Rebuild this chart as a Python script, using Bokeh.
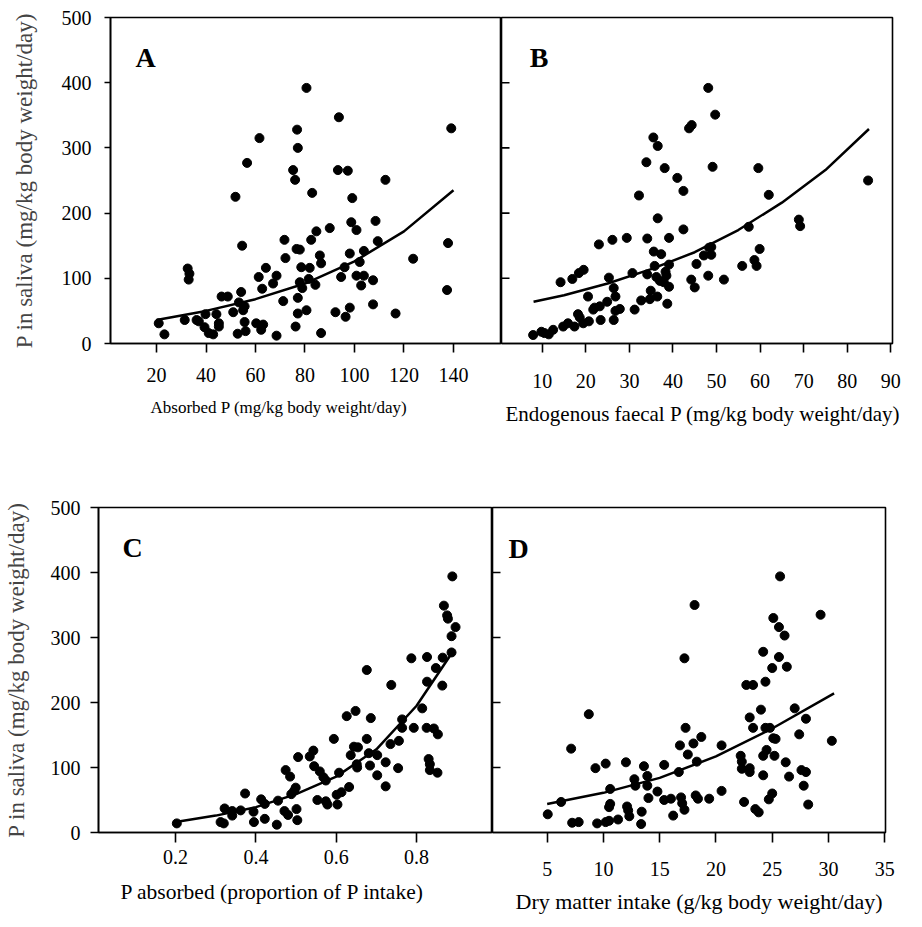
from bokeh.plotting import figure
from bokeh.layouts import row, column
from bokeh.models import FixedTicker, Range1d, Label, Title
from bokeh.embed import file_html
from bokeh.resources import INLINE

FONT = "Liberation Serif"
Y_LABEL = "P in saliva (mg/kg body weight/day)"

# ---------------- Panel A: absorbed P ----------------
a_x = [20.9, 23.2, 31.4, 32.6, 33.3, 33.0, 36.2, 37.1, 39.8, 39.4, 41.1, 42.9, 44.2, 45.2, 45.2,
       46.3, 48.8, 51.0, 51.9, 52.8, 53.3, 54.2, 54.6, 55.0, 55.6, 56.0, 55.6, 56.6, 60.3, 61.3,
       61.6, 62.3, 62.7, 63.1, 64.2, 67.1, 68.5, 68.5, 71.2, 71.7, 72.1, 75.2, 76.0, 76.2, 76.8,
       77.1, 76.6, 77.9, 77.1, 77.1, 77.9, 78.5, 78.9, 80.6, 80.6, 81.5, 81.9, 82.5, 82.9, 84.2,
       84.6, 86.0, 86.5, 86.5, 90.0, 92.3, 93.7, 93.3, 94.6, 96.0, 96.4, 97.3, 98.1, 98.1, 98.7,
       99.1, 100.8, 100.8, 102.1, 102.7, 103.8, 103.8, 107.5, 107.5, 108.5, 109.4, 139.1, 112.5,
       137.8, 123.7, 116.6, 137.4]
a_y = [31, 14, 36, 115, 107, 98, 36, 34, 45, 25, 16, 14, 45, 31, 26,
       72, 72, 48, 225, 15, 63, 79, 150, 51, 33, 19, 57, 277, 31, 102,
       315, 21, 84, 29, 116, 92, 104, 12, 65, 159, 131, 266, 251, 26, 328,
       300, 145, 144, 70, 46, 94, 117, 85, 392, 51, 99, 116, 159, 231, 90,
       172, 135, 123, 16, 177, 48, 347, 266, 102, 117, 41, 265, 55, 138, 186,
       223, 174, 104, 125, 89, 142, 104, 97, 60, 188, 157, 330, 251,
       154, 130, 46, 82]
a_curve_x = [20, 40, 60, 80, 100, 120, 140]
a_curve_y = [36, 50, 68, 92, 126, 172, 235]
a_ticks = [20, 40, 60, 80, 100, 120, 140]

# ---------------- Panel B: endogenous faecal P ----------------
b_x = [7.9, 9.8, 10.5, 11.5, 12.5, 14.2, 14.8, 15.9, 16.9, 17.4, 18.4, 19.5, 18.2, 18.6, 19.4,
       20.5, 20.7, 21.7, 22.0, 23.0, 23.2, 23.4, 24.9, 25.3, 26.1, 26.4, 26.8, 26.8, 26.4, 27.8,
       29.4, 30.7, 31.2, 32.2, 32.7, 33.9, 34.1, 34.1, 34.9, 35.5, 35.6, 35.8, 36.5, 36.5, 36.4,
       36.2, 38.1, 41.0, 42.4, 43.7, 44.3, 48.1, 49.7, 49.1, 39.1, 42.4, 37.3, 39.1, 37.0, 38.3,
       38.5, 37.9, 39.1, 34.7, 38.7, 44.2, 45.0, 45.4, 47.1, 48.3, 48.8, 48.8, 48.1, 51.7, 55.9,
       57.4, 58.7, 59.2, 59.9, 59.6, 62.0, 68.9, 69.2, 84.8]
b_y = [13, 18, 16, 14, 21, 94, 26, 31, 99, 26, 108, 113, 45, 40, 31,
       72, 34, 52, 55, 152, 57, 36, 64, 101, 159, 85, 72, 50, 36, 53,
       162, 108, 52, 227, 66, 278, 161, 106, 81, 316, 141, 119, 303, 192, 72,
       102, 269, 254, 234, 330, 335, 392, 351, 271, 162, 175, 137, 121, 96, 110,
       104, 94, 87, 68, 61, 98, 86, 122, 135, 147, 148, 136, 104, 98, 119,
       179, 128, 119, 145, 269, 228, 190, 180, 250]
b_curve_x = [8, 15, 25, 35, 45, 55, 65, 75, 85]
b_curve_y = [64, 74, 92, 114, 140, 174, 216, 266, 329]
b_ticks = [10, 20, 30, 40, 50, 60, 70, 80, 90]

# ---------------- Panel C: P absorbed (proportion) ----------------
c_x = [0.203, 0.312, 0.320, 0.322, 0.341, 0.341, 0.362, 0.373, 0.394, 0.395, 0.413, 0.422, 0.422,
       0.452, 0.455, 0.474, 0.471, 0.480, 0.485, 0.488, 0.501, 0.503, 0.505, 0.499, 0.495, 0.534,
       0.543, 0.545, 0.553, 0.559, 0.568, 0.574, 0.574, 0.578, 0.594, 0.601, 0.603, 0.607, 0.613,
       0.626, 0.632, 0.636, 0.644, 0.648, 0.654, 0.652, 0.651, 0.676, 0.676, 0.681, 0.684, 0.686,
       0.702, 0.702, 0.889, 0.868, 0.876, 0.878, 0.897, 0.887, 0.887, 0.787, 0.826, 0.865, 0.848,
       0.826, 0.864, 0.737, 0.814, 0.764, 0.764, 0.793, 0.825, 0.843, 0.853, 0.756, 0.735, 0.723,
       0.754, 0.723, 0.830, 0.833, 0.833, 0.852]
c_y = [14, 16, 14, 37, 33, 26, 34, 60, 32, 16, 51, 21, 44,
       12, 49, 96, 33, 27, 86, 59, 36, 19, 116, 69, 64, 117,
       126, 102, 50, 94, 85, 80, 48, 43, 144, 58, 43, 92, 62,
       179, 70, 119, 132, 187, 131, 100, 105, 250, 144, 122, 103, 176,
       88, 119, 394, 349, 334, 329, 316, 302, 277, 268, 270, 269, 253,
       232, 226, 227, 191, 174, 161, 161, 161, 160, 151, 141, 136, 108,
       99, 71, 113, 105, 96, 92]
c_curve_x = [0.2, 0.3, 0.4, 0.5, 0.6, 0.7, 0.8, 0.89]
c_curve_y = [16, 26, 39, 59, 86, 128, 195, 278]
c_ticks = [0.2, 0.4, 0.6, 0.8]

# ---------------- Panel D: dry matter intake ----------------
d_x = [5.05, 6.24, 7.13, 7.22, 7.8, 8.7, 9.29, 10.2, 9.44, 10.2, 10.5, 10.5, 10.6, 10.6, 11.3,
       12.0, 12.1, 12.2, 12.3, 12.75, 12.84, 13.35, 13.4, 13.6, 13.9, 13.9, 14.0, 14.8, 15.4, 15.4,
       16.0, 16.2, 16.7, 16.8, 16.9, 17.0, 17.2, 17.2, 17.3, 17.5, 18.0, 18.1, 18.2, 18.3, 18.4,
       18.7, 19.4, 20.5, 20.5, 22.2, 22.3, 22.3, 22.5, 22.7, 23.3, 23.0, 23.0, 23.0, 23.3, 23.5,
       23.8, 24.0, 24.2, 24.2, 24.2, 24.4, 24.4, 24.5, 24.7, 25.0, 24.8, 25.0, 25.1, 25.1, 25.2,
       25.3, 25.6, 25.6, 25.7, 26.1, 26.3, 26.2, 26.5, 27.0, 27.4, 27.6, 28.0, 28.0, 27.8, 28.2,
       29.3, 30.3]
d_y = [28, 47, 129, 15, 16, 182, 99, 106, 14, 16, 18, 39, 44, 67, 20,
       108, 40, 34, 25, 82, 72, 13, 32, 102, 87, 72, 53, 63, 104, 50,
       52, 26, 93, 134, 54, 45, 35, 268, 161, 120, 137, 350, 57, 109, 52,
       147, 52, 134, 64, 118, 109, 98, 47, 227, 227, 177, 99, 93, 161, 36,
       31, 189, 278, 88, 118, 232, 161, 127, 51, 60, 161, 253, 330, 145, 118,
       144, 270, 316, 394, 303, 255, 108, 86, 191, 151, 96, 93, 175, 72, 43,
       335, 141]
d_curve_x = [5, 10, 15, 20, 25, 30.5]
d_curve_y = [44, 61, 84, 117, 160, 214]
d_ticks = [5, 10, 15, 20, 25, 30, 35]

y_ticks_outer = [0, 100, 200, 300, 400, 500]
y_ticks_inner = [100, 200, 300, 400]


def make_panel(xs, ys, cx, cy, xr, xticks, width, height, mbl, mbr, mbt, mbb,
               outer, letter, lx, ly, xlabel, xl_offset, xl_standoff, xl_size,
               xtick_out, xtick_standoff, ytick_len, ytick_standoff, ylab_standoff):
    p = figure(width=width, height=height, x_range=Range1d(*xr), y_range=Range1d(0, 500),
               output_backend="svg", toolbar_location=None,
               y_axis_location="left" if outer else None,
               min_border_left=mbl, min_border_right=mbr,
               min_border_top=mbt, min_border_bottom=mbb)
    p.xgrid.grid_line_color = None
    p.ygrid.grid_line_color = None
    p.outline_line_color = "black"
    p.outline_line_width = 1.6
    p.outline_line_alpha = 1.0
    p.background_fill_color = "white"
    p.border_fill_color = "white"

    p.axis.axis_line_width = 1.6
    p.axis.major_tick_line_width = 1.6
    p.axis.minor_tick_line_color = None
    p.axis.major_label_text_font = FONT
    p.axis.major_label_text_font_size = "20px"
    p.axis.major_label_text_color = "black"

    p.xaxis.ticker = FixedTicker(ticks=xticks)
    p.xaxis.major_tick_in = 0
    p.xaxis.major_tick_out = xtick_out
    p.xaxis.major_label_standoff = xtick_standoff

    if outer:
        p.yaxis.ticker = FixedTicker(ticks=y_ticks_outer)
        p.yaxis.major_tick_in = 0
        p.yaxis.major_tick_out = ytick_len
        p.yaxis.major_label_standoff = ytick_standoff
        p.yaxis.axis_label = Y_LABEL
        p.yaxis.axis_label_text_font = FONT
        p.yaxis.axis_label_text_font_size = "23px"
        p.yaxis.axis_label_text_font_style = "normal"
        p.yaxis.axis_label_standoff = ylab_standoff
    else:
        # inward tick marks on the shared left edge
        frame_w = width - mbl - mbr
        tick_dx = ytick_len * (xr[1] - xr[0]) / frame_w
        n = len(y_ticks_inner)
        p.segment(x0=[xr[0]] * n, y0=y_ticks_inner, x1=[xr[0] + tick_dx] * n,
                  y1=y_ticks_inner, line_width=1.6, line_color="black")

    p.line(cx, cy, line_width=2.5, color="black")
    p.scatter(xs, ys, size=9, color="black")

    p.add_layout(Label(x=lx, y=ly, text=letter, text_font=FONT, text_font_size="28px",
                       text_font_style="bold", text_color="black",
                       text_align="left", text_baseline="alphabetic"))
    p.add_layout(Title(text=xlabel, align="left", offset=xl_offset, standoff=xl_standoff,
                       text_font=FONT, text_font_size=xl_size, text_font_style="normal",
                       text_color="black"), "below")
    return p


# top row: 478 px tall, frames 326 px tall starting at y=17
pA = make_panel(a_x, a_y, a_curve_x, a_curve_y, (1.41, 159.4), a_ticks,
                501, 478, 110, 0, 17, 135, True, "A", 11.5, 438,
                "Absorbed P (mg/kg body weight/day)", 40, 23, "17px",
                9, 15, 6, 13, 22)
pB = make_panel(b_x, b_y, b_curve_x, b_curve_y, (0.64, 90.4), b_ticks,
                412, 478, 0, 21, 17, 135, False, "B", 7.1, 438,
                "Endogenous faecal P (mg/kg body weight/day)", 4, 19, "21px",
                9, 21, 8, 0, 0)
# bottom row: 449 px tall, frames 325 px tall starting at y=507
pC = make_panel(c_x, c_y, c_curve_x, c_curve_y, (0.008, 0.989), c_ticks,
                492, 449, 98, 0, 29, 95, True, "C", 0.068, 438,
                "P absorbed (proportion of P intake)", 22, 22, "21.5px",
                10, 7, 8, 10, 19)
pD = make_panel(d_x, d_y, d_curve_x, d_curve_y, (0.14, 35.07), d_ticks,
                414, 449, 0, 21, 29, 95, False, "D", 1.56, 437,
                "Dry matter intake (g/kg body weight/day)", 23, 16, "22px",
                10, 19, 8, 0, 0)

layout = column(row(pA, pB, spacing=0), row(pC, pD, spacing=0), spacing=0)

with open("out.html", "w") as f:
    f.write(file_html(layout, INLINE))
